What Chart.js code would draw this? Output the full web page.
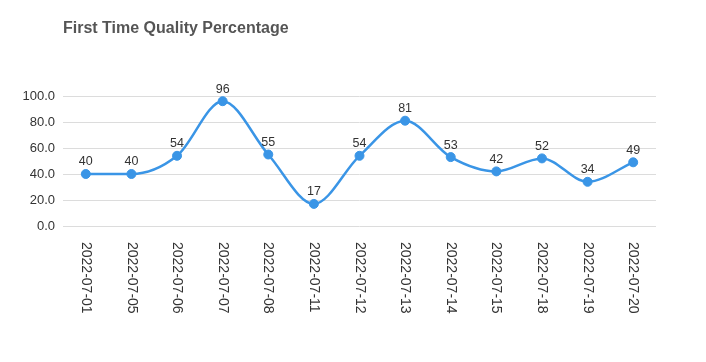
<!DOCTYPE html>
<html>
<head>
<meta charset="utf-8">
<script src="https://cdn.jsdelivr.net/npm/chart.js@4"></script>
<style>
  html, body { margin: 0; padding: 0; background: #fff; }
  #wrap { width: 706px; height: 362px; position: relative; }
</style>
</head>
<body>
<div id="wrap"><canvas id="grafica"></canvas></div>
<script>
// datos
const fechas = ["2022-07-01", "2022-07-05", "2022-07-06", "2022-07-07", "2022-07-08", "2022-07-11",
  "2022-07-12", "2022-07-13", "2022-07-14", "2022-07-15", "2022-07-18", "2022-07-19", "2022-07-20"];
const calidad = [40, 40, 54, 96, 55, 17, 54, 81, 53, 42, 52, 34, 49];
const titulo = "First Time Quality Percentage";

const FONT = "'Liberation Sans', Arial, sans-serif";
const AZUL = "#3a95e6";

// titulo, etiquetas de fechas giradas y valores encima de los puntos
const extras = {
    id: 'extras',
    afterDraw(chart) {
        const ctx = chart.ctx;
        const x = chart.scales.x;
        const y = chart.scales.y;
        ctx.save();

        ctx.fillStyle = '#555';
        ctx.font = "bold 16px " + FONT;
        ctx.textAlign = 'left';
        ctx.textBaseline = 'middle';
        ctx.fillText(titulo, 63, 29);

        ctx.fillStyle = '#333';
        ctx.font = "14px " + FONT;
        fechas.forEach((f, i) => {
            ctx.save();
            ctx.translate(x.getPixelForValue(i), chart.chartArea.bottom + 16);
            ctx.rotate(Math.PI / 2);
            ctx.textAlign = 'left';
            ctx.textBaseline = 'middle';
            ctx.fillText(f, 0, 0);
            ctx.restore();
        });

        ctx.fillStyle = '#333';
        ctx.font = "12.5px " + FONT;
        ctx.textAlign = 'center';
        ctx.textBaseline = 'middle';
        calidad.forEach((v, i) => {
            ctx.fillText(String(v), x.getPixelForValue(i), y.getPixelForValue(v) - 12);
        });
        ctx.restore();
    }
};

new Chart(document.getElementById('grafica'), {
    type: 'line',
    data: {
        labels: fechas,
        datasets: [{
            label: titulo,
            data: calidad,
            borderColor: AZUL,
            backgroundColor: AZUL,
            borderWidth: 2.5,
            pointRadius: 4.5,
            pointHoverRadius: 4.5,
            pointBorderWidth: 1,
            cubicInterpolationMode: 'monotone',
            clip: false
        }]
    },
    options: {
        responsive: true,
        maintainAspectRatio: false,
        animation: false,
        layout: { padding: { top: 96, right: 50, left: 0, bottom: 0 } },
        plugins: {
            legend: { display: false },
            tooltip: { enabled: false }
        },
        scales: {
            x: {
                offset: true,
                grid: { display: false },
                border: { display: false },
                ticks: { display: false },
                afterFit(s) { s.height = 136; }
            },
            y: {
                min: 0,
                max: 100,
                grid: { color: '#dcdcdc', drawTicks: false },
                border: { display: false },
                ticks: {
                    stepSize: 20,
                    padding: 8,
                    color: '#333',
                    font: { family: FONT, size: 13 },
                    callback: v => v.toFixed(1)
                },
                afterFit(s) { s.width = 63; }
            }
        }
    },
    plugins: [extras]
});
</script>
</body>
</html>
